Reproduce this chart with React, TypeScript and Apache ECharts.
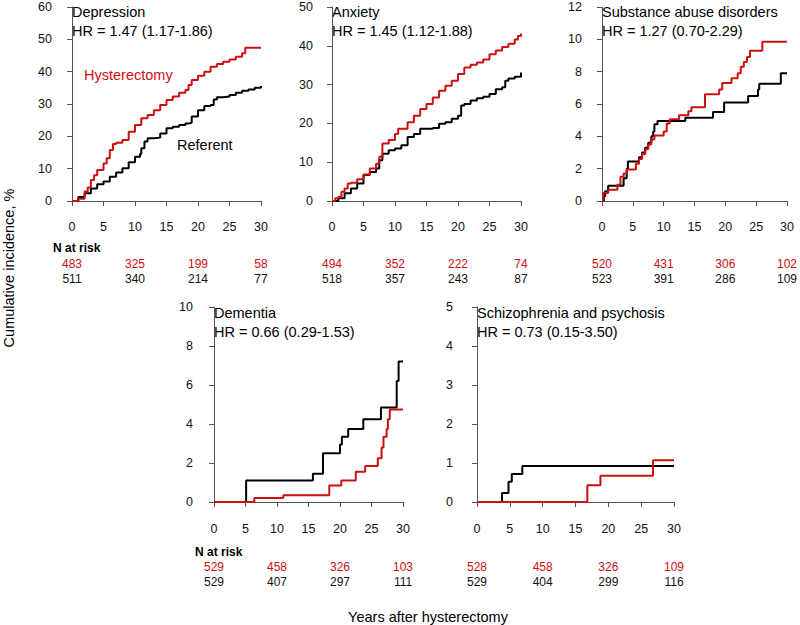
import React, { useEffect, useRef } from 'react';
import * as echarts from 'echarts';

// ---------- data ----------
const panelNames = ['Depression', 'Anxiety', 'Substance abuse disorders', 'Dementia', 'Schizophrenia and psychosis'];
const hrLabels = ['HR = 1.47 (1.17-1.86)', 'HR = 1.45 (1.12-1.88)', 'HR = 1.27 (0.70-2.29)', 'HR = 0.66 (0.29-1.53)', 'HR = 0.73 (0.15-3.50)'];
const yMax = [60, 50, 12, 10, 5];
const yInterval = [10, 10, 2, 2, 1];
const xTicks = [0, 5, 10, 15, 20, 25, 30];
const riskTimes = [0, 10, 20, 30];
const riskHyst = [
  [483, 325, 199, 58],
  [494, 352, 222, 74],
  [520, 431, 306, 102],
  [529, 458, 326, 103],
  [528, 458, 326, 109],
];
const riskRef = [
  [511, 340, 214, 77],
  [518, 357, 243, 87],
  [523, 391, 286, 109],
  [529, 407, 297, 111],
  [529, 404, 299, 116],
];

const depHyst = [[0, 0], [1, 0.7], [2, 2.9], [2.5, 4.2], [3, 6.5], [3.5, 8], [4, 9.6], [5, 11.6], [5.5, 13.2], [6, 15.8], [6.5, 17.6], [7, 18], [8, 18.9], [9, 21.4], [10, 23.5], [11, 25.6], [12, 26.6], [13, 28.1], [14, 29.7], [15, 31.2], [16, 32.3], [17, 33.5], [18, 34.3], [18.5, 35.9], [19, 37.4], [20, 38.7], [21, 40], [22, 41.5], [23, 42.4], [24, 43.1], [25, 43.8], [26, 44.6], [27, 45.7], [27.5, 47.4], [30, 47.4]];
const depRef = [[0, 0], [1, 1.2], [2, 2.4], [3, 3.9], [4, 5.2], [5, 6], [6, 7.5], [7, 8.8], [8, 10.1], [9, 12], [10, 13.7], [10.8, 14.5], [11, 16.3], [11.5, 18.4], [12, 19.4], [13, 19.6], [14, 20.9], [15, 22.5], [16, 23], [17, 23.5], [18, 24], [18.5, 24.2], [19, 26.1], [20, 28.1], [21, 29.4], [22, 29.7], [22.5, 31.4], [23, 32.1], [24, 32.3], [25, 32.8], [26, 33.5], [27, 34.1], [28, 34.5], [29, 35], [30, 35.6]];
const anxHyst = [[0, 0], [0.5, 0.7], [1, 1.1], [1.5, 2.4], [2, 3.2], [2.5, 4.5], [3, 4.7], [4, 5.6], [5, 6.8], [6, 8.4], [7, 9.6], [7.5, 11.4], [8, 14.8], [9, 15.7], [10, 17.3], [10.5, 18.6], [12, 20.3], [13, 22], [14, 23.7], [15, 25], [16, 26.7], [17, 28.4], [18, 29.7], [19, 31], [20, 32.7], [21, 34.4], [22, 35.1], [23, 35.7], [24, 36.5], [25, 37.8], [26, 38.8], [27, 39.7], [28, 40.5], [29, 41.6], [29.5, 42.5], [30, 43.2]];
const anxRef = [[0, 0], [1, 0.7], [2, 2], [3, 3.2], [4, 4.5], [5, 6.7], [6, 7.5], [7, 8.4], [7.5, 10.5], [8, 12.2], [9, 13.1], [10, 13.5], [11, 14.4], [12, 16.5], [13, 17.3], [14, 18.6], [16, 18.8], [17, 19.9], [18, 20.3], [19, 21.2], [20, 22], [20.5, 24.6], [21, 25], [22, 25.9], [23, 26.5], [24, 26.9], [25, 27.6], [26, 28.8], [27, 29.3], [27.5, 31], [28, 31.6], [29, 32], [30, 33.1]];
const subHyst = [[0, 0], [0.2, 0.5], [1, 0.7], [2.5, 1.0], [3, 1.5], [3.5, 1.7], [4, 1.95], [5.5, 2.3], [6, 2.6], [6.5, 2.9], [7, 3.2], [7.5, 3.5], [8, 3.8], [8.5, 4.05], [10, 4.3], [10.5, 4.8], [11, 5.05], [12.5, 5.3], [14, 5.55], [14.5, 5.8], [16.7, 6.6], [19, 6.9], [19.5, 7.3], [21, 7.6], [22, 7.9], [22.5, 8.3], [23, 8.6], [23.5, 8.9], [24, 9.3], [26, 9.85], [30, 9.85]];
const subRef = [[0, 0], [0.3, 0.3], [0.5, 0.6], [1, 0.95], [3.5, 1.4], [4, 2.0], [4.2, 2.45], [6, 2.7], [6.5, 3.0], [7, 3.3], [7.5, 3.6], [8, 4.0], [8.3, 4.3], [8.5, 4.75], [9, 4.95], [13.5, 5.15], [18, 5.5], [19.8, 6.1], [23.7, 6.5], [25.3, 6.9], [25.5, 7.25], [29, 7.9], [30, 7.9]];
const demHyst = [[0, 0], [6.4, 0.2], [11, 0.35], [18.3, 0.85], [20.2, 1.1], [22.5, 1.55], [24, 1.85], [26, 2.25], [26.6, 2.8], [26.9, 3.35], [27.4, 3.75], [27.6, 4.25], [27.9, 4.75], [30, 4.75]];
const demRef = [[0, 0], [5.1, 1.1], [15.7, 1.45], [17.3, 2.5], [20, 2.95], [20.3, 3.35], [21.3, 3.75], [23.7, 4.25], [26.5, 4.85], [29, 6.2], [29.3, 7.2], [30, 7.2]];
const schHyst = [[0, 0], [16.8, 0.43], [18.8, 0.67], [26.8, 1.07], [30, 1.07]];
const schRef = [[0, 0], [3.8, 0.23], [4.8, 0.52], [5.3, 0.72], [6.9, 0.92], [30, 0.92]];

const hystCurves = [depHyst, anxHyst, subHyst, demHyst, schHyst];
const refCurves = [depRef, anxRef, subRef, demRef, schRef];

// ---------- layout ----------
const layouts = [
  { left: 72, top: 7, width: 189, height: 194, yOff: 10, xOff: 10, riskTop: 57, titleY: 12 },
  { left: 332, top: 7, width: 189, height: 194, yOff: 9, xOff: 10, riskTop: 57, titleY: 12 },
  { left: 602, top: 7, width: 189, height: 194, yOff: 10, xOff: 10, riskTop: 57, titleY: 12 },
  { left: 214, top: 307, width: 189, height: 195, yOff: 11, xOff: 11, riskTop: 59, titleY: 313 },
  { left: 477, top: 307, width: 197, height: 195, yOff: 14, xOff: 11, riskTop: 59, titleY: 313 },
];

const RED = '#cc1010';
const AXIS = '#555';
const FONT = 'Liberation Sans, Arial, sans-serif';

export default function App() {
  const ref = useRef<HTMLDivElement>(null);
  useEffect(() => {
    if (!ref.current) return;
    const chart = echarts.init(ref.current, undefined, { renderer: 'svg' });
    const grid: any[] = [];
    const xAxis: any[] = [];
    const yAxis: any[] = [];
    const series: any[] = [];
    const graphic: any[] = [];

    layouts.forEach((L, i) => {
      grid.push({ left: L.left, top: L.top, width: L.width, height: L.height, containLabel: false });
      // main x axis
      xAxis.push({
        type: 'value', gridIndex: i, min: 0, max: 30, interval: 5, offset: L.xOff,
        axisLine: { show: true, lineStyle: { color: AXIS, width: 1 } },
        axisTick: { show: true, length: 5, lineStyle: { color: AXIS } },
        splitLine: { show: false },
        axisLabel: { show: true, margin: 9, color: '#111', fontSize: 12.5, fontFamily: FONT, showMinLabel: true, showMaxLabel: true,
          formatter: (v: number) => (xTicks.includes(v) ? String(v) : '') },
      });
      // N at risk rows (hysterectomy, referent)
      [riskHyst, riskRef].forEach((rows, k) => {
        xAxis.push({
          type: 'value', gridIndex: i, min: 0, max: 30, interval: 10, position: 'bottom', offset: 0,
          axisLine: { show: false }, axisTick: { show: false }, splitLine: { show: false },
          axisLabel: {
            show: true, margin: L.riskTop + k * 15, color: k === 0 ? RED : '#111', fontSize: 12, fontFamily: FONT,
            showMinLabel: true, showMaxLabel: true,
            formatter: (v: number) => {
              const idx = riskTimes.indexOf(v);
              return idx >= 0 ? String(rows[i][idx]) : '';
            },
          },
        });
      });
      yAxis.push({
        type: 'value', gridIndex: i, min: 0, max: yMax[i], interval: yInterval[i], offset: L.yOff,
        axisLine: { show: true, lineStyle: { color: AXIS, width: 1 } },
        axisTick: { show: true, length: 5, lineStyle: { color: AXIS } },
        splitLine: { show: false },
        axisLabel: { margin: 10, color: '#111', fontSize: 12.5, fontFamily: FONT },
      });
      series.push({
        type: 'line', xAxisIndex: i * 3, yAxisIndex: i, data: refCurves[i], step: 'end',
        showSymbol: false, symbol: 'none', lineStyle: { color: '#000', width: 2 }, itemStyle: { color: '#000' }, z: 2,
      });
      series.push({
        type: 'line', xAxisIndex: i * 3, yAxisIndex: i, data: hystCurves[i], step: 'end',
        showSymbol: false, symbol: 'none', lineStyle: { color: RED, width: 2 }, itemStyle: { color: RED }, z: 3,
      });
      graphic.push({ type: 'text', x: L.left, y: L.titleY, style: { text: panelNames[i], fill: '#000', font: `14.5px ${FONT}`, textAlign: 'left', textVerticalAlign: 'middle' } });
      graphic.push({ type: 'text', x: L.left, y: L.titleY + 19, style: { text: hrLabels[i], fill: '#000', font: `14.5px ${FONT}`, textAlign: 'left', textVerticalAlign: 'middle' } });
    });

    graphic.push({ type: 'text', x: 84, y: 75, style: { text: 'Hysterectomy', fill: RED, font: `14.5px ${FONT}`, textAlign: 'left', textVerticalAlign: 'middle' } });
    graphic.push({ type: 'text', x: 177, y: 145, style: { text: 'Referent', fill: '#000', font: `14.5px ${FONT}`, textAlign: 'left', textVerticalAlign: 'middle' } });
    graphic.push({ type: 'text', x: 53, y: 248, style: { text: 'N at risk', fill: '#000', font: `bold 12px ${FONT}`, textAlign: 'left', textVerticalAlign: 'middle' } });
    graphic.push({ type: 'text', x: 195, y: 552, style: { text: 'N at risk', fill: '#000', font: `bold 12px ${FONT}`, textAlign: 'left', textVerticalAlign: 'middle' } });
    graphic.push({ type: 'text', x: 428, y: 617, style: { text: 'Years after hysterectomy', fill: '#000', font: `14.5px ${FONT}`, textAlign: 'center', textVerticalAlign: 'middle' } });
    graphic.push({ type: 'text', x: 9, y: 268, rotation: Math.PI / 2, style: { text: 'Cumulative incidence, %', fill: '#000', font: `14.5px ${FONT}`, textAlign: 'center', textVerticalAlign: 'middle' } });

    chart.setOption({
      animation: false,
      backgroundColor: '#fff',
      grid, xAxis, yAxis, series, graphic,
    });
    return () => chart.dispose();
  }, []);
  return <div ref={ref} style={{ position: 'fixed', left: 0, top: 0, width: 800, height: 625 }} />;
}
